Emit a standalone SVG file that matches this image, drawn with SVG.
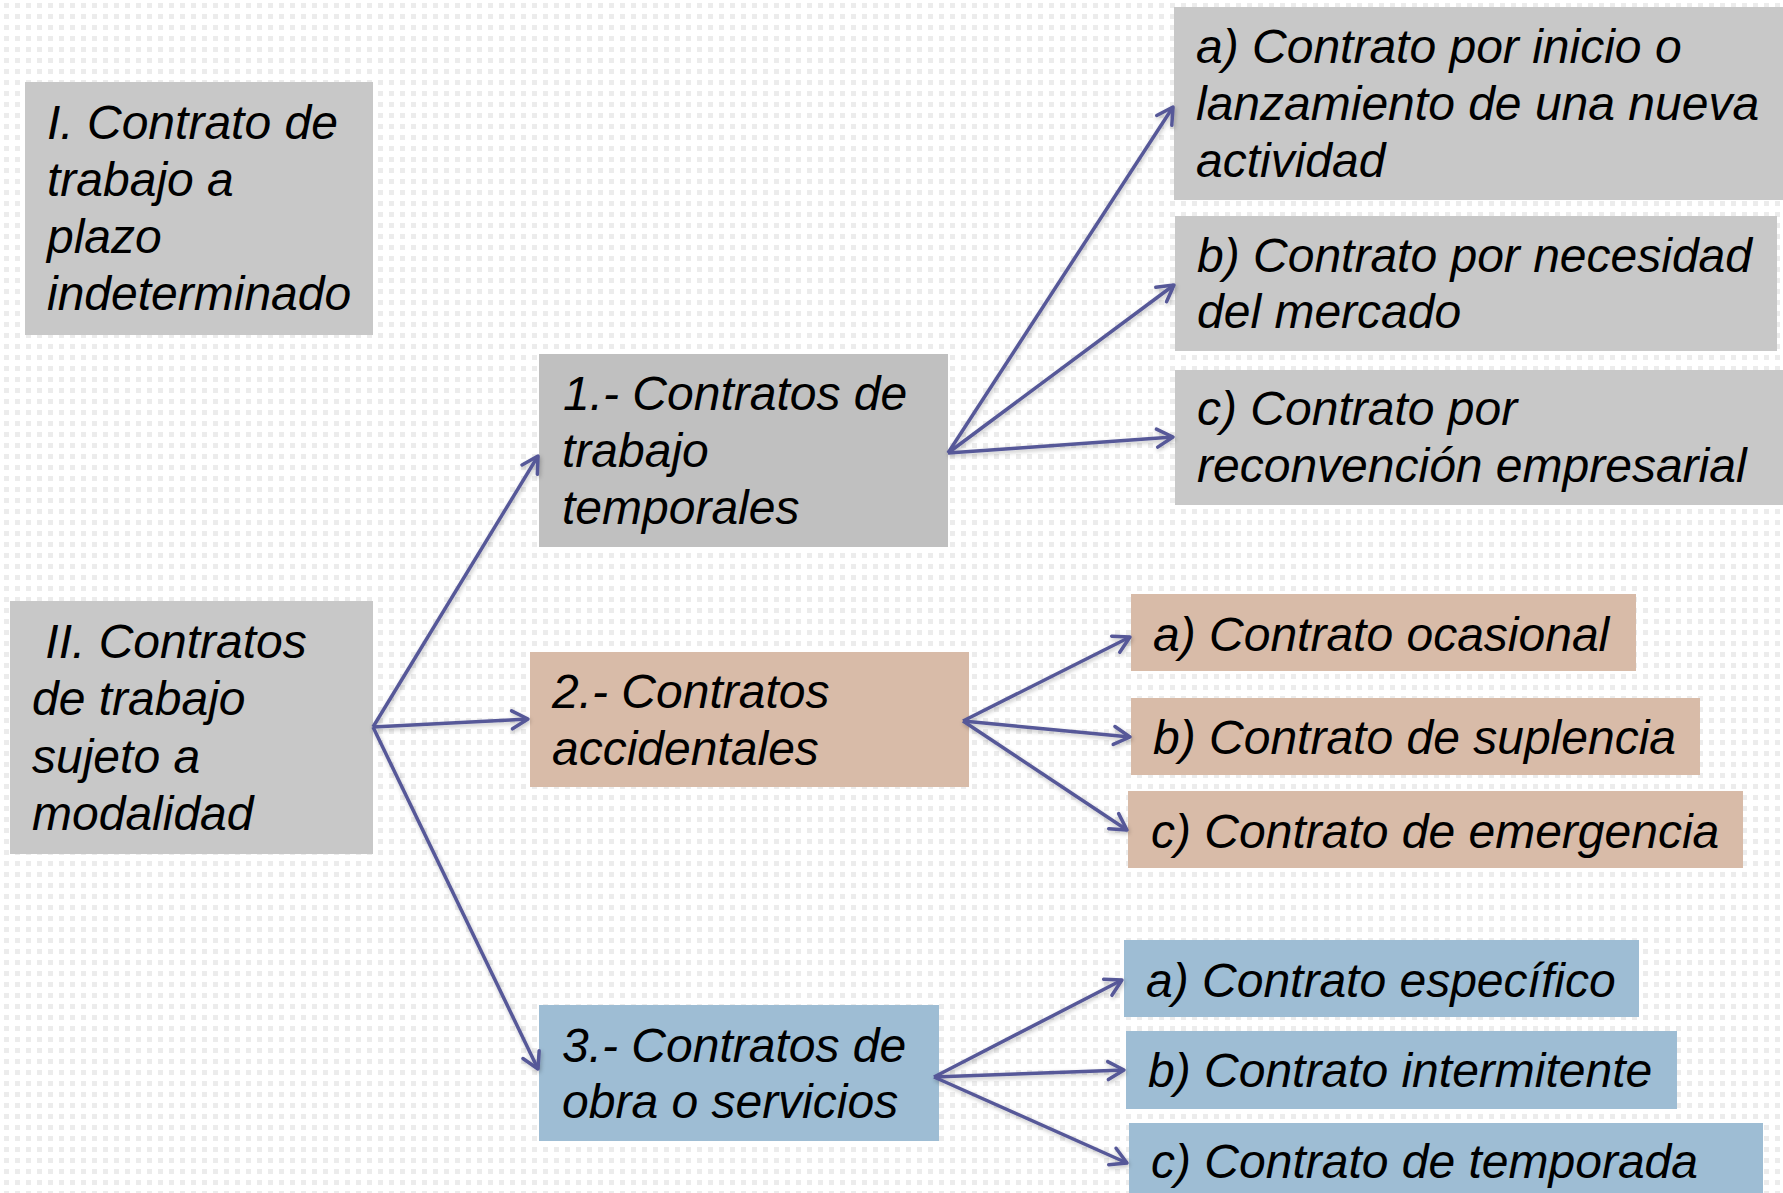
<svg xmlns="http://www.w3.org/2000/svg" width="1783" height="1193" viewBox="0 0 1783 1193">
<defs>
<pattern id="dots" x="0" y="0" width="11" height="11" patternUnits="userSpaceOnUse">
<rect x="4" y="3" width="5" height="5" fill="#ececec"/>
</pattern>
<marker id="arr" viewBox="-2 -2 24 24" refX="18" refY="10" markerWidth="24" markerHeight="24" markerUnits="userSpaceOnUse" orient="auto">
<path d="M2,1 L18,10 L2,19" fill="none" stroke="#565898" stroke-width="3.5" stroke-linecap="round" stroke-linejoin="round"/>
</marker>
<filter id="glow" x="-10%" y="-10%" width="120%" height="120%">
<feGaussianBlur in="SourceAlpha" stdDeviation="2"/>
<feOffset dx="1" dy="2" result="b"/>
<feComponentTransfer><feFuncA type="linear" slope="0.25"/></feComponentTransfer>
<feMerge><feMergeNode/><feMergeNode in="SourceGraphic"/></feMerge>
</filter>
</defs>
<style>
text{font-family:"Liberation Sans",Arial,sans-serif;font-style:italic;font-size:48px;fill:#000}
.gray{fill:#c8c8c8}
.gray2{fill:#c0c0c0}
.tan{fill:#d8bba8}
.blue{fill:#9ebdd4}
.conn line{stroke:#565898;stroke-width:3.5;fill:none;marker-end:url(#arr)}
</style>
<rect width="1783" height="1193" fill="#ffffff"/>
<rect width="1783" height="1193" fill="url(#dots)"/>

<g id="nodeI">
<rect class="gray" x="25" y="82" width="348" height="253"/>
<text x="47" y="139">I. Contrato de</text>
<text x="47" y="196">trabajo a</text>
<text x="47" y="253">plazo</text>
<text x="47" y="310">indeterminado</text>
</g>

<g id="nodeII">
<rect class="gray" x="10" y="601" width="363" height="253"/>
<text x="32" y="658" xml:space="preserve"> II. Contratos</text>
<text x="32" y="715">de trabajo</text>
<text x="32" y="773">sujeto a</text>
<text x="32" y="830">modalidad</text>
</g>

<g id="node1">
<rect class="gray2" x="539" y="354" width="409" height="193"/>
<text x="563" y="410">1.- Contratos de</text>
<text x="562" y="467">trabajo</text>
<text x="562" y="524">temporales</text>
</g>

<g id="node2">
<rect class="tan" x="530" y="652" width="439" height="135"/>
<text x="552" y="708">2.- Contratos</text>
<text x="552" y="765">accidentales</text>
</g>

<g id="node3">
<rect class="blue" x="539" y="1005" width="400" height="136"/>
<text x="562" y="1062">3.- Contratos de</text>
<text x="562" y="1118">obra o servicios</text>
</g>

<g id="node1a">
<rect class="gray" x="1174" y="7" width="609" height="193"/>
<text x="1196" y="63">a) Contrato por inicio o</text>
<text x="1196" y="120">lanzamiento de una nueva</text>
<text x="1196" y="177">actividad</text>
</g>

<g id="node1b">
<rect class="gray" x="1175" y="216" width="602" height="135"/>
<text x="1197" y="272">b) Contrato por necesidad</text>
<text x="1197" y="328">del mercado</text>
</g>

<g id="node1c">
<rect class="gray" x="1175" y="370" width="608" height="135"/>
<text x="1197" y="425">c) Contrato por</text>
<text x="1197" y="482">reconvención empresarial</text>
</g>

<g id="node2a">
<rect class="tan" x="1131" y="594" width="505" height="77"/>
<text x="1153" y="651">a) Contrato ocasional</text>
</g>

<g id="node2b">
<rect class="tan" x="1131" y="698" width="569" height="77"/>
<text x="1153" y="754">b) Contrato de suplencia</text>
</g>

<g id="node2c">
<rect class="tan" x="1128" y="791" width="615" height="77"/>
<text x="1151" y="848">c) Contrato de emergencia</text>
</g>

<g id="node3a">
<rect class="blue" x="1124" y="940" width="515" height="77"/>
<text x="1146" y="997">a) Contrato específico</text>
</g>

<g id="node3b">
<rect class="blue" x="1126" y="1031" width="551" height="78"/>
<text x="1148" y="1087">b) Contrato intermitente</text>
</g>

<g id="node3c">
<rect class="blue" x="1129" y="1123" width="634" height="70"/>
<text x="1151" y="1178">c) Contrato de temporada</text>
</g>

<g id="connectors" class="conn" filter="url(#glow)">
<line x1="373" y1="727" x2="538" y2="456"/>
<line x1="373" y1="727" x2="528" y2="719"/>
<line x1="373" y1="727" x2="538" y2="1069"/>
<line x1="948" y1="453" x2="1173" y2="107"/>
<line x1="948" y1="453" x2="1174" y2="285"/>
<line x1="948" y1="453" x2="1173" y2="437"/>
<line x1="963" y1="721" x2="1130" y2="637"/>
<line x1="963" y1="721" x2="1130" y2="737"/>
<line x1="963" y1="721" x2="1127" y2="830"/>
<line x1="934" y1="1077" x2="1122" y2="980"/>
<line x1="934" y1="1077" x2="1124" y2="1070"/>
<line x1="934" y1="1077" x2="1127" y2="1163"/>
</g>
</svg>
